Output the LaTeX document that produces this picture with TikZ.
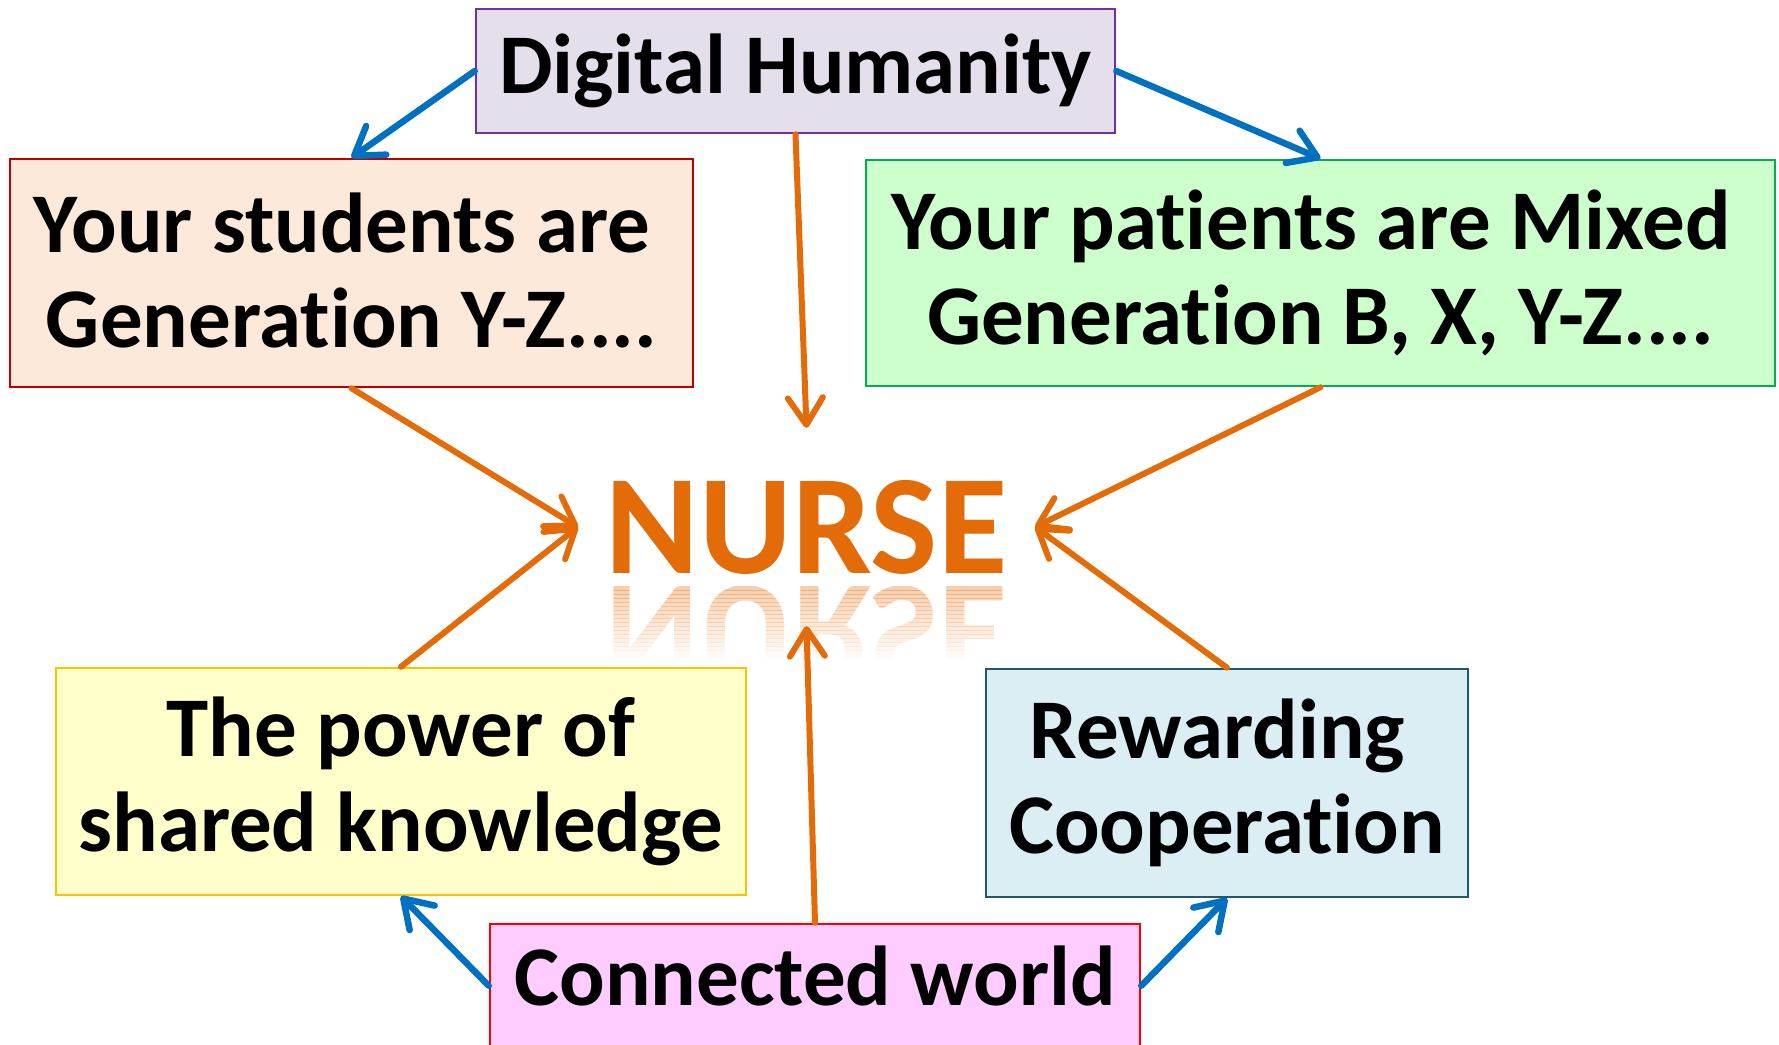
\documentclass[tikz,border=0pt]{standalone}
\usepackage{fontspec}
\setmainfont{Carlito}[Ligatures=CommonOff]
\usetikzlibrary{arrows.meta,calc}
\definecolor{dhfill}{HTML}{E5DFEC}
\definecolor{dhdraw}{HTML}{7030A0}
\definecolor{stufill}{HTML}{FDE9D9}
\definecolor{studraw}{HTML}{C00000}
\definecolor{patfill}{HTML}{CCFFCC}
\definecolor{patdraw}{HTML}{00B050}
\definecolor{powfill}{HTML}{FFFFCC}
\definecolor{powdraw}{HTML}{FFC000}
\definecolor{rewfill}{HTML}{DAEEF3}
\definecolor{rewdraw}{HTML}{215968}
\definecolor{confill}{HTML}{FFCCFF}
\definecolor{condraw}{HTML}{FF0000}
\definecolor{arrblue}{HTML}{0070C0}
\definecolor{arrorange}{HTML}{E36C09}
\newcommand{\trailsp}{\hspace{0.226em}\mbox{}}
\begin{document}
\begin{tikzpicture}[x=1pt,y=-1pt,
  box/.style={draw, line width=2.5pt, inner sep=0pt, align=center,
    font=\fontsize{85}{95}\selectfont\bfseries},
  nursefont/.style={font=\fontsize{142}{142}\selectfont\bfseries, text=arrorange, inner sep=0pt},
  bluearr/.style={draw=arrblue, line width=6.5pt, line cap=round,
    -{Straight Barb[length=27pt,width=35pt,round]}},
  orarr/.style={draw=arrorange, line width=6pt, line cap=round,
    -{Straight Barb[length=27pt,width=35pt,round]}}]
\useasboundingbox (0,0) rectangle (1779,1044);
\clip (0,0) rectangle (1779,1044);
\fill[white] (0,0) rectangle (1779,1044);

\node[box, draw=dhdraw, fill=dhfill, minimum width=639pt, minimum height=124pt] (dh) at (795.5,71) {Digital Humanity};
\node[box, draw=studraw, fill=stufill, minimum width=683pt, minimum height=228pt, text depth=6pt] (stu) at (351.5,273) {Your students are\trailsp\\Generation Y-Z....};
\node[box, draw=patdraw, fill=patfill, minimum width=909pt, minimum height=226pt] (pat) at (1320.5,273) {Your patients are Mixed\trailsp\\Generation B, X, Y-Z....};
\node[box, draw=powdraw, fill=powfill, minimum width=690pt, minimum height=227pt] (pow) at (401,781.5) {The power of\\shared knowledge};
\node[box, draw=rewdraw, fill=rewfill, minimum width=482pt, minimum height=228pt] (rew) at (1227,783) {Rewarding\trailsp\\Cooperation};
\node[box, draw=condraw, fill=confill, minimum width=650pt, minimum height=140pt, text height=70pt, text depth=48pt, anchor=base] (con) at (815,1005) {Connected world};

\node[nursefont, minimum width=457pt, minimum height=198pt] (nurse) at (806.5,527) {NURSE};

\foreach \i in {0,...,17} {
  \pgfmathsetmacro\op{0.32*(1-\i/18)}
  \begin{scope}
    \clip (600,{586+\i*4}) rectangle (1012,{590.5+\i*4});
    \node[nursefont, opacity=\op, yscale=-1, anchor=base] (refl\i) at (806.5,586) {NURSE};
  \end{scope}
}

\draw[bluearr] (dh.west) -- (stu.north);
\draw[bluearr] (dh.east) -- (pat.north);
\draw[orarr] (dh.south) -- (nurse.north);
\draw[orarr] (stu.south) -- (nurse.west);
\draw[orarr] (pat.south) -- (nurse.east);
\draw[orarr] (pow.north) -- (nurse.west);
\draw[orarr] (rew.north) -- (nurse.east);
\draw[orarr] (con.north) -- (nurse.south);
\draw[bluearr] ($(con.north west)+(0,63)$) -- (pow.south);
\draw[bluearr] ($(con.north east)+(0,63)$) -- (rew.south);
\end{tikzpicture}
\end{document}
